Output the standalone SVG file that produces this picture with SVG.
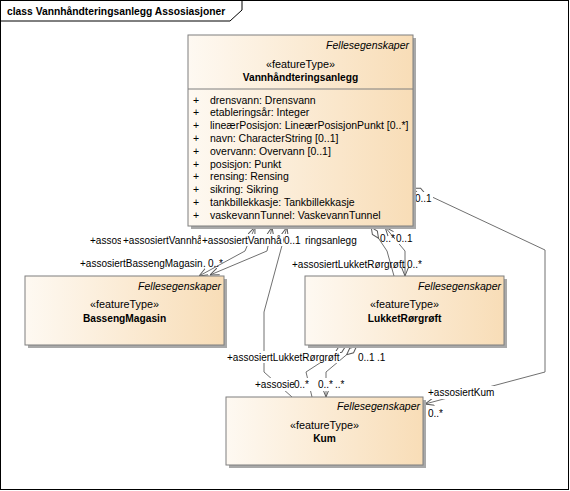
<svg xmlns="http://www.w3.org/2000/svg" width="570" height="491" viewBox="0 0 570 491">
<style>
text{font-family:"Liberation Sans",Arial,sans-serif;fill:#000}
.title{font-size:10.3px;font-weight:bold}
.it{font-size:10.5px;font-style:italic;text-anchor:end}
.st{font-size:10.8px;text-anchor:middle}
.nm{font-size:10.2px;font-weight:bold;text-anchor:middle}
.at{font-size:10.5px}
.lb{font-size:10px}
.box{fill:url(#g);stroke:#7f7f7f;stroke-width:1}
.sh{fill:#a9a9a9}
.ln{fill:none;stroke:#707070;stroke-width:1}
.bg{fill:#fff}
</style>
<defs>
<linearGradient id="g" x1="0" y1="0" x2="1" y2="0">
<stop offset="0" stop-color="#fef9f2"/>
<stop offset="1" stop-color="#f8ddb7"/>
</linearGradient>
<marker id="arr" viewBox="0 0 10 10" refX="10" refY="5" markerWidth="9" markerHeight="9" markerUnits="userSpaceOnUse" orient="auto-start-reverse">
<path d="M0,1 L10,5 L0,9" fill="none" stroke="#595959" stroke-width="1.1"/>
</marker>
<marker id="dia" viewBox="0 0 14 8" refX="0" refY="4" markerWidth="14" markerHeight="8" markerUnits="userSpaceOnUse" orient="auto">
<path d="M0.5,4 L7,1 L13.5,4 L7,7 Z" fill="#fff" stroke="#595959" stroke-width="1"/>
</marker>
</defs>
<rect x="0.5" y="0.5" width="568" height="489" fill="#fff" stroke="#000" stroke-width="1"/>
<path d="M0.5,21 H230 L242,10 V0.5" fill="none" stroke="#000" stroke-width="1"/>
<text class="title" x="7" y="15">class Vannhåndteringsanlegg Assosiasjoner</text>

<g id="connectors">
<path class="ln" d="M255,227 L245,251 L199,276" marker-start="url(#arr)" marker-end="url(#arr)"/>
<path class="ln" d="M272,227 L267,251 L210,275" marker-start="url(#arr)" marker-end="url(#arr)"/>
<path class="ln" d="M287,227 L264,312 L264,372 L292,397" marker-start="url(#arr)"/>
<path class="ln" d="M371,227 L387,251 L394,276" marker-start="url(#dia)"/>
<path class="ln" d="M385,227 L405,251 L405,276" marker-start="url(#arr)" marker-end="url(#arr)"/>
<path class="ln" d="M413,188 L545,250 L545,372 L425,404" marker-start="url(#dia)" marker-end="url(#arr)"/>
<path class="ln" d="M346,346 L306,372 L312,397" marker-start="url(#dia)"/>
<path class="ln" d="M357,346 L326,372 L326,397" marker-start="url(#dia)" marker-end="url(#arr)"/>
</g>

<g id="labels">
<text class="lb" x="90" y="244">+assos</text>
<rect class="bg" x="121" y="234" width="80" height="12"/>
<text class="lb" x="123" y="244">+assosiertVannhå</text>
<rect class="bg" x="201" y="234" width="82" height="12"/>
<text class="lb" x="202" y="244">+assosiertVannhå</text>
<rect class="bg" x="284" y="234" width="17" height="12"/>
<text class="lb" x="284" y="244">0..1</text>
<text class="lb" x="305" y="244">ringsanlegg</text>
<text class="lb" x="80" y="267">+assosiertBassengMagasin</text>
<text class="lb" x="203" y="267">.</text>
<text class="lb" x="208" y="267">0..*</text>
<text class="lb" x="380" y="242">0..*</text>
<rect class="bg" x="395" y="232" width="18" height="12"/>
<text class="lb" x="396" y="242">0..1</text>
<text class="lb" x="292" y="268">+assosiertLukketRørgrøft</text>
<text class="lb" x="403" y="268">.</text>
<text class="lb" x="407" y="268">0..*</text>
<rect class="bg" x="414" y="192" width="19" height="12"/>
<text class="lb" x="415" y="202">0..1</text>
<rect class="bg" x="427" y="386" width="69" height="13"/>
<text class="lb" x="428" y="396">+assosiertKum</text>
<text class="lb" x="428" y="417">0..*</text>
<rect class="bg" x="226" y="351" width="114" height="12"/>
<text class="lb" x="227" y="361">+assosiertLukketRørgrøft</text>
<text class="lb" x="358" y="361">0..1</text>
<text class="lb" x="377" y="361">.1</text>
<rect class="bg" x="254" y="378" width="92" height="13"/>
<text class="lb" x="255" y="388">+assosie</text>
<text class="lb" x="294" y="388">0..*</text>
<text class="lb" x="318" y="388">0..*</text>
<text class="lb" x="335" y="388">..*</text>
</g>

<g id="Vannhandteringsanlegg">
<rect class="sh" x="191" y="38" width="225" height="191"/>
<rect class="box" x="188" y="35" width="225" height="191"/>
<line x1="188" y1="89" x2="413" y2="89" stroke="#7f7f7f"/>
<text class="it" x="409" y="48.5">Fellesegenskaper</text>
<text class="st" x="300.5" y="68">«featureType»</text>
<text class="nm" x="300.5" y="81">Vannhåndteringsanlegg</text>
<g class="at">
<text x="193" y="103.5">+</text><text x="210" y="103.5">drensvann: Drensvann</text>
<text x="193" y="116.3">+</text><text x="210" y="116.3">etableringsår: Integer</text>
<text x="193" y="129.1">+</text><text x="210" y="129.1">lineærPosisjon: LineærPosisjonPunkt [0..*]</text>
<text x="193" y="141.9">+</text><text x="210" y="141.9">navn: CharacterString [0..1]</text>
<text x="193" y="154.7">+</text><text x="210" y="154.7">overvann: Overvann [0..1]</text>
<text x="193" y="167.5">+</text><text x="210" y="167.5">posisjon: Punkt</text>
<text x="193" y="180.3">+</text><text x="210" y="180.3">rensing: Rensing</text>
<text x="193" y="193.1">+</text><text x="210" y="193.1">sikring: Sikring</text>
<text x="193" y="205.9">+</text><text x="210" y="205.9">tankbillekkasje: Tankbillekkasje</text>
<text x="193" y="218.7">+</text><text x="210" y="218.7">vaskevannTunnel: VaskevannTunnel</text>
</g>
</g>

<g id="BassengMagasin">
<rect class="sh" x="28" y="279" width="199" height="69"/>
<rect class="box" x="25" y="276" width="199" height="69"/>
<text class="it" x="221" y="289.5">Fellesegenskaper</text>
<text class="st" x="124.5" y="308">«featureType»</text>
<text class="nm" x="124.5" y="322">BassengMagasin</text>
</g>

<g id="LukketRorgroft">
<rect class="sh" x="308" y="279" width="199" height="69"/>
<rect class="box" x="305" y="276" width="199" height="69"/>
<text class="it" x="501" y="289.5">Fellesegenskaper</text>
<text class="st" x="404.5" y="308">«featureType»</text>
<text class="nm" x="404.5" y="322">LukketRørgrøft</text>
</g>

<g id="Kum">
<rect class="sh" x="229" y="400" width="197" height="68"/>
<rect class="box" x="226" y="397" width="197" height="68"/>
<text class="it" x="420" y="410">Fellesegenskaper</text>
<text class="st" x="324.5" y="429">«featureType»</text>
<text class="nm" x="324.5" y="442">Kum</text>
</g>
</svg>
